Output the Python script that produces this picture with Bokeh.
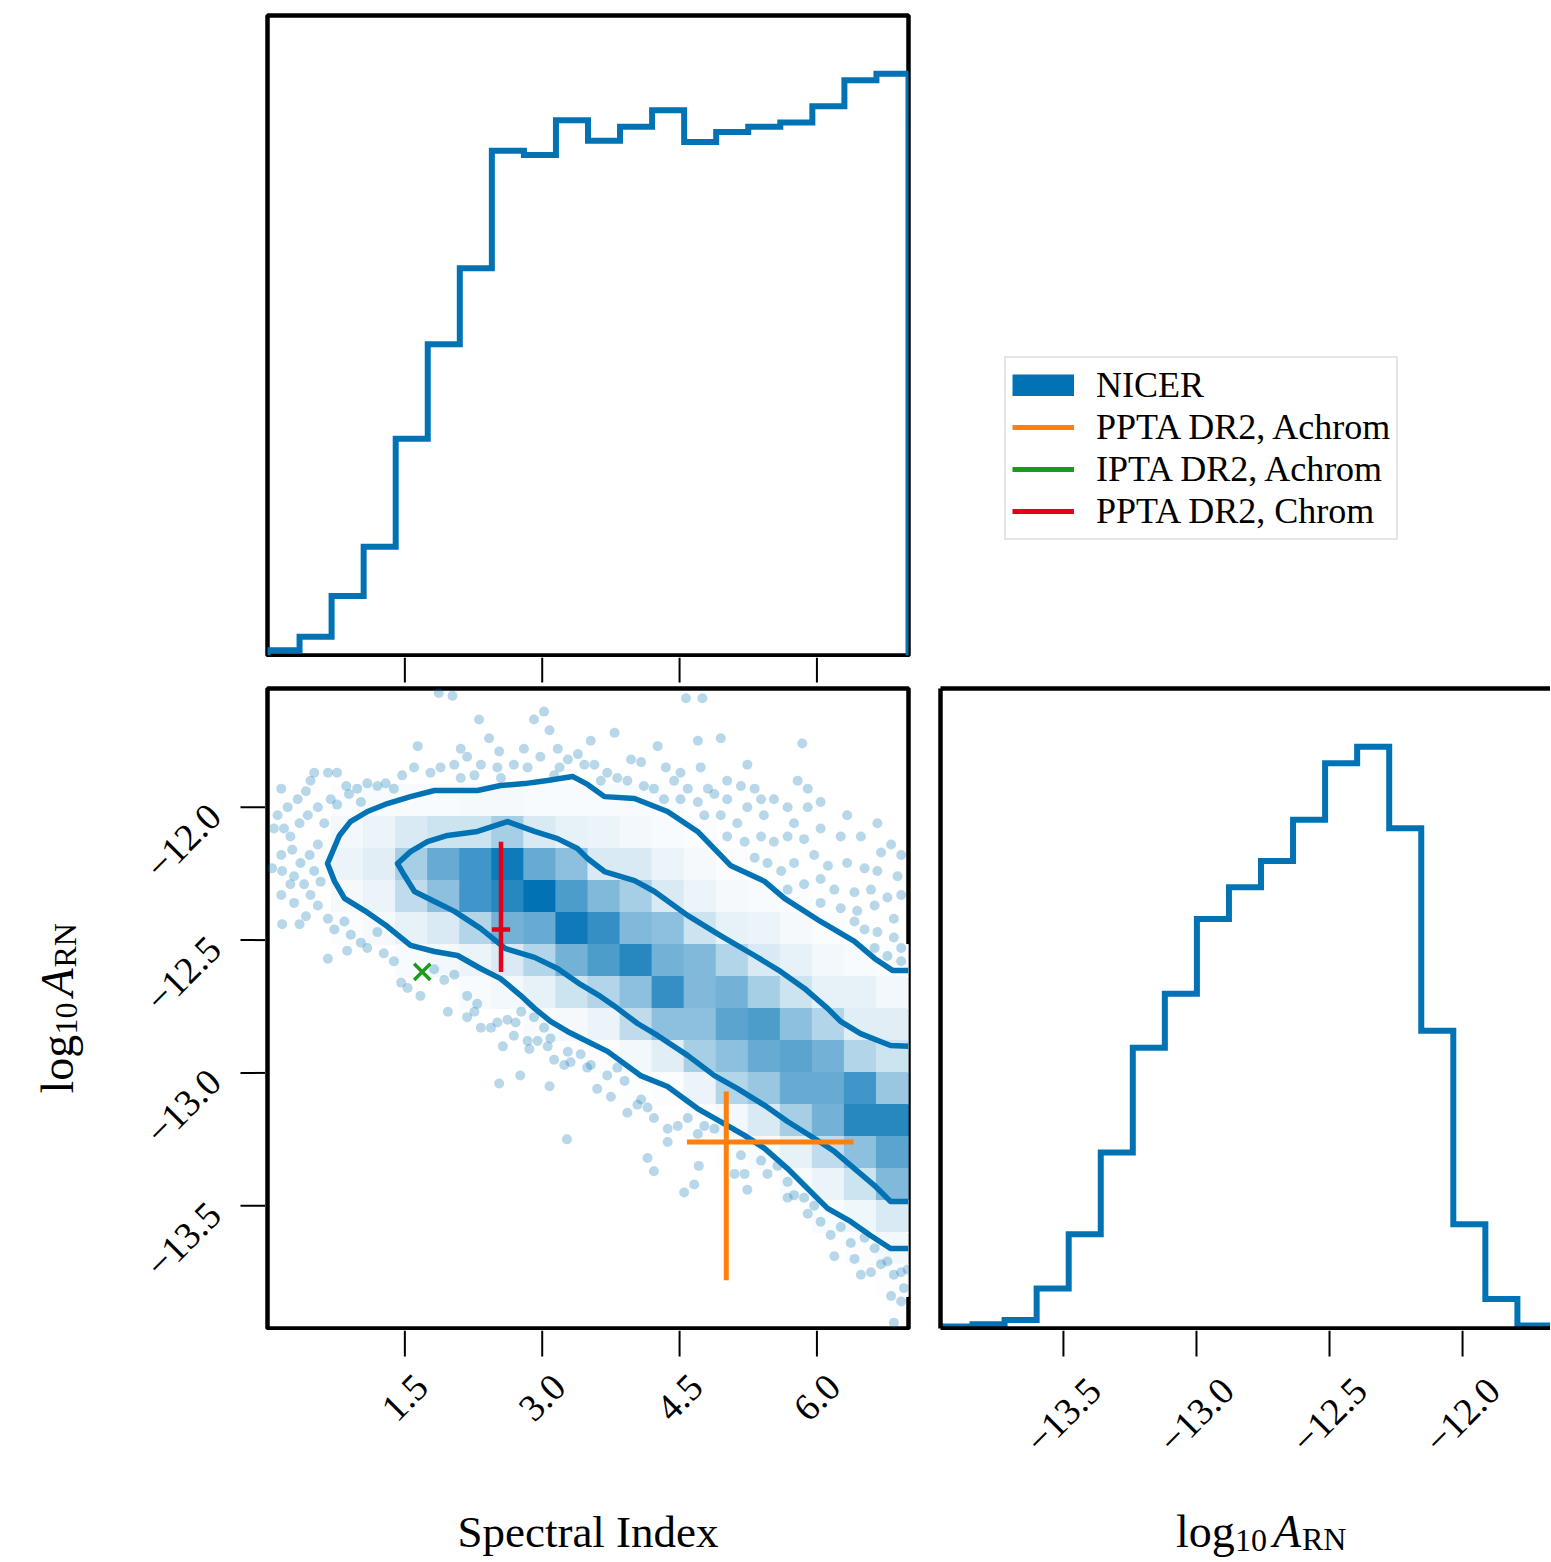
import numpy as np
from bokeh.plotting import figure
from bokeh.models import (Range1d, FixedTicker, LinearAxis, ColumnDataSource,
                          Legend, LegendItem, Spacer)
from bokeh.layouts import row, column
from bokeh.embed import file_html
from bokeh.resources import INLINE
from bokeh.core.properties import value

# ------------------------------------------------------------------ data
spectral_range = [0.0, 7.0]            # Spectral Index axis range
amp_range = [-13.962, -11.553]         # log10 A_RN axis range
n_bins = 20

x_ticks = [1.5, 3.0, 4.5, 6.0]
x_tick_labels = ["1.5", "3.0", "4.5", "6.0"]
a_ticks = [-13.5, -13.0, -12.5, -12.0]
a_tick_labels = ["\u221213.5", "\u221213.0", "\u221212.5", "\u221212.0"]

# 1D marginal histograms (relative counts per bin)
spectral_hist = [12, 43, 137, 250, 498, 715, 890, 1160, 1150, 1230,
                 1183, 1215, 1253, 1180, 1203, 1215, 1225, 1262, 1322, 1337]
amp_hist = [5, 10, 20, 95, 223, 417, 665, 793, 970, 1045,
            1107, 1205, 1339, 1378, 1185, 705, 247, 70, 7, 2]

# 2D density (fraction of maximum); rows from highest log10 A to lowest,
# columns from lowest to highest spectral index
density_rows = [
    [0] * 20,
    [0] * 20,
    [0] * 20,
    [0, 0, .02, .03, .03, .03, .04, .04, .03, .03, .03, .03, .02, 0, 0, 0, 0, 0, 0, 0],
    [0, 0, .05, .08, .15, .20, .20, .35, .15, .10, .08, .05, .03, .02, 0, 0, 0, 0, 0, 0],
    [0, .02, .08, .12, .35, .60, .75, .95, .60, .45, .15, .15, .08, .04, .02, .01, 0, 0, 0, 0],
    [0, 0, .04, .08, .25, .45, .75, .85, 1.0, .70, .50, .35, .15, .08, .04, .03, .02, 0, 0, 0],
    [0, 0, .02, .04, .10, .15, .30, .55, .60, .95, .80, .50, .45, .20, .10, .08, .04, .02, 0, 0],
    [0, 0, 0, 0, .03, .05, .08, .15, .30, .55, .70, .85, .55, .50, .30, .15, .10, .05, .03, .02],
    [0, 0, 0, 0, 0, 0, .03, .05, .10, .20, .30, .45, .80, .50, .55, .35, .20, .10, .10, .05],
    [0, 0, 0, 0, 0, 0, 0, 0, .03, .04, .08, .25, .45, .45, .65, .70, .45, .30, .12, .12],
    [0, 0, 0, 0, 0, 0, 0, 0, 0, 0, .02, .05, .12, .35, .45, .60, .65, .55, .30, .20],
    [0, 0, 0, 0, 0, 0, 0, 0, 0, 0, 0, .01, .02, .08, .30, .40, .60, .60, .75, .40],
    [0, 0, 0, 0, 0, 0, 0, 0, 0, 0, 0, 0, 0, .02, .05, .15, .35, .55, .85, .85],
    [0, 0, 0, 0, 0, 0, 0, 0, 0, 0, 0, 0, 0, 0, .01, .03, .10, .25, .45, .65],
    [0, 0, 0, 0, 0, 0, 0, 0, 0, 0, 0, 0, 0, 0, 0, 0, .03, .08, .20, .50],
    [0, 0, 0, 0, 0, 0, 0, 0, 0, 0, 0, 0, 0, 0, 0, 0, 0, .03, .06, .15],
    [0, 0, 0, 0, 0, 0, 0, 0, 0, 0, 0, 0, 0, 0, 0, 0, 0, 0, .02, .05],
    [0, 0, 0, 0, 0, 0, 0, 0, 0, 0, 0, 0, 0, 0, 0, 0, 0, 0, 0, .01],
    [0] * 20,
]

# individual samples outside the outer contour (spectral index, log10 A)
sample_points = [
    (1.87, -11.57), (2.02, -11.58), (2.31, -11.67), (2.42, -11.74), (2.53, -11.79),
    (2.91, -11.67), (3.02, -11.64), (3.08, -11.71), (2.80, -11.78), (2.69, -11.84),
    (2.51, -11.85), (2.33, -11.84), (2.18, -11.81), (2.11, -11.78), (2.04, -11.84),
    (1.89, -11.85), (1.78, -11.87), (1.64, -11.77), (1.60, -11.85), (1.47, -11.88),
    (1.38, -11.93), (1.29, -11.91), (1.20, -11.92), (1.09, -11.91), (0.98, -11.93),
    (0.86, -11.92), (0.76, -11.87), (0.66, -11.87), (0.51, -11.87), (0.47, -11.90),
    (0.42, -11.94), (0.33, -11.97), (0.22, -12.00), (0.15, -11.93), (0.11, -12.03),
    (0.07, -12.08), (0.18, -12.08), (0.25, -12.11), (0.35, -12.06), (0.44, -12.03),
    (0.55, -12.00), (0.62, -12.06), (0.69, -11.97), (0.76, -11.99), (0.89, -11.95),
    (1.02, -11.98), (0.27, -12.16), (0.15, -12.18), (0.05, -12.23), (0.16, -12.24),
    (0.29, -12.26), (0.36, -12.21), (0.46, -12.18), (0.55, -12.14), (0.51, -12.24),
    (0.40, -12.29), (0.25, -12.29), (0.15, -12.33), (0.29, -12.36), (0.47, -12.33),
    (0.58, -12.28), (0.55, -12.37), (0.42, -12.41), (0.35, -12.44), (0.16, -12.44),
    (0.66, -12.42), (0.73, -12.46), (0.84, -12.43), (0.91, -12.48), (1.02, -12.51),
    (1.09, -12.53), (1.20, -12.47), (1.27, -12.55), (1.38, -12.58), (1.46, -12.66),
    (1.53, -12.68), (1.67, -12.71), (1.82, -12.61), (1.93, -12.65), (2.04, -12.63),
    (2.18, -12.71), (2.29, -12.74), (0.66, -12.57), (0.87, -12.54), (3.17, -11.78),
    (3.28, -11.82), (3.39, -11.80), (3.46, -11.84), (3.19, -11.85), (2.98, -11.81),
    (2.84, -11.85), (3.13, -11.88), (2.26, -11.88), (2.11, -11.89), (2.55, -11.89),
    (4.57, -11.59), (4.75, -11.59), (3.79, -11.72), (3.53, -11.75), (4.26, -11.77),
    (4.70, -11.75), (4.95, -11.74), (5.84, -11.76), (3.97, -11.82), (4.08, -11.83),
    (4.35, -11.85), (4.51, -11.87), (4.73, -11.85), (5.24, -11.84), (3.57, -11.84),
    (3.71, -11.87), (3.82, -11.89), (3.64, -11.90), (3.93, -11.90), (4.11, -11.92),
    (4.22, -11.93), (4.44, -11.90), (4.59, -11.93), (4.81, -11.93), (5.02, -11.90),
    (5.17, -11.92), (5.32, -11.93), (5.79, -11.90), (5.90, -11.93), (6.04, -11.98),
    (4.33, -11.97), (4.51, -11.97), (4.70, -11.98), (4.88, -11.95), (5.02, -11.97),
    (5.39, -11.97), (5.53, -11.97), (5.68, -12.00), (4.77, -12.03), (4.95, -12.03),
    (5.13, -12.06), (5.24, -12.00), (5.42, -12.03), (5.75, -12.06), (5.90, -12.00),
    (6.33, -12.03), (6.66, -12.06), (5.02, -12.11), (5.21, -12.13), (5.39, -12.11),
    (5.53, -12.13), (5.68, -12.11), (5.86, -12.12), (6.04, -12.08), (6.26, -12.11),
    (6.48, -12.11), (6.70, -12.17), (6.81, -12.14), (6.92, -12.18), (5.32, -12.19),
    (5.46, -12.21), (5.61, -12.24), (5.75, -12.21), (5.97, -12.18), (6.12, -12.22),
    (6.33, -12.21), (6.52, -12.23), (6.66, -12.24), (6.88, -12.26), (5.68, -12.31),
    (5.86, -12.29), (6.04, -12.27), (6.19, -12.31), (6.41, -12.32), (6.59, -12.31),
    (6.77, -12.34), (6.92, -12.33), (6.04, -12.36), (6.26, -12.38), (6.44, -12.39),
    (6.63, -12.37), (6.84, -12.42), (6.41, -12.43), (6.52, -12.46), (6.66, -12.47),
    (6.84, -12.49), (6.92, -12.53), (6.63, -12.53), (6.77, -12.56), (6.92, -12.58),
    (1.97, -12.77), (2.18, -12.79), (2.26, -12.77), (2.33, -12.83), (2.44, -12.83),
    (2.51, -12.81), (2.62, -12.80), (2.71, -12.81), (2.77, -12.77), (2.91, -12.79),
    (3.02, -12.83), (3.09, -12.87), (2.84, -12.88), (2.95, -12.88), (2.69, -12.86),
    (2.57, -12.90), (2.86, -12.91), (3.06, -12.90), (3.13, -12.95), (3.24, -12.97),
    (3.31, -12.96), (3.28, -12.92), (3.42, -12.93), (3.49, -12.98), (2.53, -13.04),
    (2.76, -13.01), (3.08, -13.05), (3.27, -13.25),
    (3.53, -12.97), (3.60, -13.06), (3.75, -13.09), (3.93, -13.15), (3.90, -13.03),
    (4.04, -13.12), (4.15, -13.13), (4.22, -13.17), (4.08, -13.10), (3.71, -13.01),
    (3.82, -12.98), (4.37, -13.21), (4.48, -13.20), (4.59, -13.17), (4.70, -13.23),
    (4.77, -13.20), (4.15, -13.32), (4.22, -13.37), (4.37, -13.26), (4.55, -13.45),
    (4.66, -13.42), (4.71, -13.35), (4.88, -13.21), (5.10, -13.38), (5.21, -13.38),
    (5.24, -13.44), (5.17, -13.31), (5.39, -13.33), (5.46, -13.38), (5.57, -13.35),
    (5.68, -13.41), (5.75, -13.46), (5.86, -13.47), (5.97, -13.50), (5.68, -13.47),
    (5.90, -13.53), (6.04, -13.56), (6.15, -13.61), (6.19, -13.69), (6.26, -13.58),
    (6.37, -13.64), (6.41, -13.70), (6.52, -13.62), (6.63, -13.66), (6.70, -13.72),
    (6.48, -13.76), (6.59, -13.75), (6.77, -13.71), (6.84, -13.76), (6.92, -13.75),
    (6.81, -13.84), (6.95, -13.81), (6.92, -13.86), (6.84, -13.94), (6.99, -13.74),
]

# credible-region contours (outer and inner), traced along upper then lower edge
contour_outer_gamma = [7.0, 6.825, 6.629, 6.410, 6.039, 5.646, 5.428, 5.056, 4.696, 4.368,
                       4.008, 3.680, 3.495, 3.331, 3.058, 2.807, 2.545, 2.293, 2.075, 1.824,
                       1.562, 1.310, 1.092, 0.906, 0.786, 0.655,
                       0.732, 0.841, 1.059, 1.310, 1.562, 1.824, 2.075, 2.326, 2.545, 2.763,
                       2.916, 3.091, 3.276, 3.495, 3.713, 4.073, 4.368, 4.696, 4.947, 5.209,
                       5.428, 5.679, 5.897, 6.116, 6.367, 6.585, 6.804, 7.0]
contour_outer_amp = [-12.614, -12.614, -12.569, -12.505, -12.430, -12.343, -12.279, -12.219, -12.091, -12.016,
                     -11.967, -11.960, -11.914, -11.884, -11.899, -11.911, -11.918, -11.937, -11.937, -11.937,
                     -11.960, -11.986, -12.016, -12.054, -12.106, -12.212,
                     -12.279, -12.343, -12.389, -12.449, -12.520, -12.543, -12.558, -12.607, -12.645, -12.708,
                     -12.757, -12.806, -12.844, -12.882, -12.919, -13.010, -13.051, -13.134, -13.183, -13.235,
                     -13.284, -13.360, -13.435, -13.510, -13.559, -13.612, -13.661, -13.661]
contour_inner_gamma = [7.0, 6.804, 6.476, 6.258, 6.116, 5.864, 5.602, 5.318, 4.947, 4.587,
                       4.226, 4.008, 3.680, 3.495, 3.385, 3.167, 2.916, 2.621, 2.293, 1.966,
                       1.747, 1.562, 1.420,
                       1.496, 1.605, 1.824, 2.042, 2.326, 2.599, 2.916, 3.167, 3.418, 3.637,
                       3.822, 4.041, 4.259, 4.587, 4.881, 5.133, 5.428, 5.679, 5.974, 6.192,
                       6.410, 6.629, 6.804, 7.0]
contour_inner_amp = [-12.900, -12.897, -12.852, -12.806, -12.757, -12.682, -12.618, -12.558, -12.483, -12.407,
                     -12.317, -12.276, -12.242, -12.193, -12.155, -12.118, -12.091, -12.054, -12.091, -12.106,
                     -12.129, -12.167, -12.212,
                     -12.257, -12.317, -12.355, -12.392, -12.456, -12.532, -12.565, -12.607, -12.667, -12.712,
                     -12.757, -12.814, -12.859, -12.934, -13.010, -13.059, -13.122, -13.183, -13.247, -13.296,
                     -13.360, -13.424, -13.484, -13.484]

# literature values (value, lower error, upper error)
ppta_achrom = dict(gamma=5.01, gamma_lo=0.43, gamma_hi=1.39, amp=-13.26, amp_lo=0.52, amp_hi=0.19)
ipta_achrom = dict(gamma=1.69, amp=-12.62)
ppta_chrom = dict(gamma=2.55, gamma_lo=0.10, gamma_hi=0.10, amp=-12.46, amp_lo=0.16, amp_hi=0.33)

legend_labels = ["NICER", "PPTA DR2, Achrom", "IPTA DR2, Achrom", "PPTA DR2, Chrom"]

# ------------------------------------------------------------------ style
BLUE = "#0173b5"
BLUE_RGB = (1, 115, 181)
ORANGE = "#ff7f0e"
GREEN = "#1a9c1a"
RED = "#e4001b"
SERIF = "Liberation Serif"
TICK_FONT = "38px"
SPINE = 4.5
HIST_W = 6
TICK_LEN = 25

x_edges = np.linspace(spectral_range[0], spectral_range[1], n_bins + 1)
y_edges = np.linspace(amp_range[0], amp_range[1], n_bins + 1)

gamma_rng = Range1d(*spectral_range)
amp_rng = Range1d(*amp_range)
visible_frac = 610 / 641      # right panel is cut by the page edge
amp_vis_rng = Range1d(amp_range[0], amp_range[0] + (amp_range[1] - amp_range[0]) * visible_frac)


def step_outline(edges, counts):
    xs, ys = [edges[0]], [0.0]
    for i, c in enumerate(counts):
        xs += [edges[i], edges[i + 1]]
        ys += [c, c]
    xs.append(edges[-1])
    ys.append(0.0)
    return xs, ys


def base_fig(w, h, xr, yr, left, right, top, bottom, outline=True):
    p = figure(width=w, height=h, x_range=xr, y_range=yr, output_backend="svg",
               toolbar_location=None, title=None,
               min_border_left=left, min_border_right=right,
               min_border_top=top, min_border_bottom=bottom,
               x_axis_location=None, y_axis_location=None)
    for g in p.grid:
        g.visible = False
    p.background_fill_color = "white"
    p.border_fill_color = "white"
    if outline:
        p.outline_line_color = "black"
        p.outline_line_width = SPINE
    else:
        p.outline_line_color = None
    return p


def spine_axis(p, side):
    ax = LinearAxis(ticker=FixedTicker(ticks=[], minor_ticks=[]), major_tick_out=0,
                    major_tick_in=0, major_label_standoff=0, axis_line_color="black",
                    axis_line_width=SPINE, axis_label=None)
    p.add_layout(ax, side)


def arn_text(p, x, y, vertical=False):
    # pieces of  log_10 A_RN : text, font px, style, advance along text, subscript drop
    pieces = [("log", 46, "normal", 0, 0), ("10", 32, "normal", 59, 9),
              ("A", 46, "italic", 97, 0), ("RN", 32, "normal", 126, 7)]
    total = 170
    for txt, size, style, adv, drop in pieces:
        along = adv - total / 2
        if vertical:
            xo, yo, ang = drop, -along, np.pi / 2
        else:
            xo, yo, ang = along, drop, 0
        p.text(x=[x], y=[y], text=[txt], x_offset=xo, y_offset=yo, angle=ang,
               text_font=value(SERIF), text_font_size=f"{size}px", text_font_style=style,
               text_align="left", text_baseline="alphabetic", text_color="black")


# ------------------------------------------------------------------ row 1: top histogram + legend
pA = base_fig(930, 657, gamma_rng, Range1d(0, 1.1 * max(spectral_hist)), 267, 22, 15, 2)
xs, ys = step_outline(x_edges, spectral_hist)
pA.line(xs, ys, line_color=BLUE, line_width=HIST_W, line_join="miter")

pL = base_fig(620, 657, Range1d(0, 1), Range1d(0, 1), 0, 0, 0, 0, outline=False)
off = [5, 6]   # dummy renderers outside the visible range, used only for the legend
rN = pL.line(off, off, line_color=BLUE, line_width=22)
rO = pL.line(off, off, line_color=ORANGE, line_width=5)
rG = pL.line(off, off, line_color=GREEN, line_width=5)
rR = pL.line(off, off, line_color=RED, line_width=5)
legend = Legend(items=[LegendItem(label=lab, renderers=[r])
                       for lab, r in zip(legend_labels, [rN, rO, rG, rR])],
                location=(74, 115), label_text_font=SERIF, label_text_font_size="36px",
                label_text_color="black",
                glyph_width=62, glyph_height=22, label_standoff=22, padding=6,
                spacing=0, label_height=34, margin=0,
                border_line_color="#cccccc", border_line_width=2.5,
                background_fill_color="white", background_fill_alpha=1.0)
pL.add_layout(legend)

# ------------------------------------------------------------------ row 2: ticks under top histogram
pT = base_fig(930, 29, gamma_rng, Range1d(0, 29), 267, 22, 0, 0, outline=False)
pT.segment(x0=x_ticks, x1=x_ticks, y0=[29] * len(x_ticks), y1=[29 - TICK_LEN] * len(x_ticks),
           line_color="black", line_width=2)
gap_right = Spacer(width=620, height=29)

# ------------------------------------------------------------------ row 3: y labels, 2D panel, right histogram
pY = base_fig(265, 644, Range1d(0, 265), amp_rng, 0, 0, 2, 2, outline=False)
pY.segment(x0=[265 - TICK_LEN] * len(a_ticks), x1=[265] * len(a_ticks), y0=a_ticks, y1=a_ticks,
           line_color="black", line_width=2)
pY.text(x=[183] * len(a_ticks), y=a_ticks, text=a_tick_labels, y_offset=34, angle=np.pi / 4,
        text_align="center", text_baseline="middle", text_font=value(SERIF),
        text_font_size=TICK_FONT, text_color="black")
arn_text(pY, 57, float(np.mean(amp_range)), vertical=True)

pC = base_fig(665, 644, gamma_rng, amp_rng, 2, 22, 2, 2)
cells = dict(left=[], right=[], top=[], bottom=[], color=[])
for r, vals in enumerate(density_rows):
    for c, f in enumerate(vals):
        if f <= 0:
            continue
        cells["left"].append(x_edges[c])
        cells["right"].append(x_edges[c + 1])
        cells["top"].append(y_edges[n_bins - r])
        cells["bottom"].append(y_edges[n_bins - r - 1])
        rgb = [int(round(255 - f * (255 - ch))) for ch in BLUE_RGB]
        cells["color"].append("#%02x%02x%02x" % tuple(rgb))
pC.quad(left="left", right="right", top="top", bottom="bottom", fill_color="color",
        line_color="color", line_width=1, source=ColumnDataSource(cells))

sg = [pt[0] for pt in sample_points]
sa = [pt[1] for pt in sample_points]
pC.scatter(sg, sa, size=10, fill_color=BLUE, fill_alpha=0.28, line_color=None)

pC.line(contour_outer_gamma, contour_outer_amp, line_color=BLUE, line_width=5.5, line_join="round")
pC.line(contour_inner_gamma, contour_inner_amp, line_color=BLUE, line_width=5.5, line_join="round")

d = ppta_achrom
pC.segment(x0=[d["gamma"] - d["gamma_lo"], d["gamma"]], y0=[d["amp"], d["amp"] - d["amp_lo"]],
           x1=[d["gamma"] + d["gamma_hi"], d["gamma"]], y1=[d["amp"], d["amp"] + d["amp_hi"]],
           line_color=ORANGE, line_width=5)
pC.scatter([ipta_achrom["gamma"]], [ipta_achrom["amp"]], marker="x", size=23,
           line_color=GREEN, line_width=3.5)
d = ppta_chrom
pC.segment(x0=[d["gamma"] - d["gamma_lo"], d["gamma"]], y0=[d["amp"], d["amp"] - d["amp_lo"]],
           x1=[d["gamma"] + d["gamma_hi"], d["gamma"]], y1=[d["amp"], d["amp"] + d["amp_hi"]],
           line_color=RED, line_width=4.5)

pR = base_fig(620, 644, amp_vis_rng, Range1d(0, 1.1 * max(amp_hist)), 10, 0, 2, 2, outline=False)
xs, ys = step_outline(y_edges, amp_hist)
pR.line(xs, ys, line_color=BLUE, line_width=HIST_W, line_join="miter")
spine_axis(pR, "left")
spine_axis(pR, "above")
spine_axis(pR, "below")

# ------------------------------------------------------------------ row 4: x tick labels and axis labels
pXL = base_fig(930, 230, gamma_rng, Range1d(0, 230), 267, 22, 0, 0, outline=False)
pXL.segment(x0=x_ticks, x1=x_ticks, y0=[230] * len(x_ticks), y1=[230 - TICK_LEN - 1] * len(x_ticks),
            line_color="black", line_width=2)
pXL.text(x=x_ticks, y=[163] * len(x_ticks), text=x_tick_labels, angle=np.pi / 4,
         text_align="center", text_baseline="middle", text_font=value(SERIF),
         text_font_size=TICK_FONT, text_color="black")
pXL.text(x=[float(np.mean(spectral_range))], y=[29], text=["Spectral Index"],
         text_align="center", text_baseline="alphabetic", text_font=value(SERIF),
         text_font_size="45px", text_color="black")

pXR = base_fig(620, 230, amp_vis_rng, Range1d(0, 230), 10, 0, 0, 0, outline=False)
pXR.segment(x0=a_ticks, x1=a_ticks, y0=[230] * len(a_ticks), y1=[230 - TICK_LEN - 1] * len(a_ticks),
            line_color="black", line_width=2)
pXR.text(x=a_ticks, y=[145] * len(a_ticks), text=a_tick_labels, angle=np.pi / 4,
         text_align="center", text_baseline="middle", text_font=value(SERIF),
         text_font_size=TICK_FONT, text_color="black")
arn_text(pXR, float(np.mean(amp_range)), 29)

layout = column(row(pA, pL), row(pT, gap_right), row(pY, pC, pR), row(pXL, pXR))
with open("out.html", "w", encoding="utf-8") as fh:
    fh.write(file_html(layout, INLINE))
